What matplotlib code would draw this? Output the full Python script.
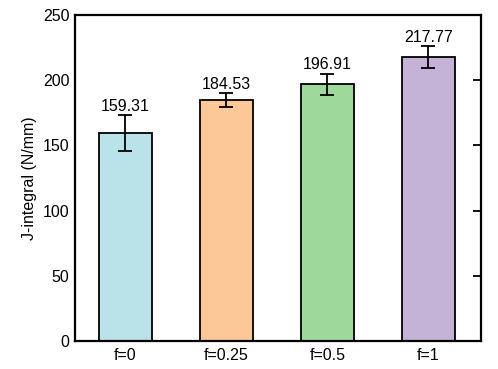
import matplotlib
matplotlib.use("Agg")
import matplotlib.pyplot as plt

categories = ["f=0", "f=0.25", "f=0.5", "f=1"]
values = [159.31, 184.53, 196.91, 217.77]
errors = [13.8, 5.4, 8.2, 8.6]
colors = ["#B9E3E8", "#FDC897", "#9ED89B", "#C4B3D7"]
yticks = [0, 50, 100, 150, 200, 250]

plt.rcParams['font.family'] = ['Liberation Sans', 'DejaVu Sans']
plt.rcParams['font.size'] = 11.5

fig = plt.figure(figsize=(4.98, 3.69), dpi=100)
ax = fig.add_axes([75/498, 1-341/369, 406/498, 326/369])

x = list(range(len(categories)))
ax.bar(x, values, width=0.52, color=colors, edgecolor='black', linewidth=1.3,
       yerr=errors, capsize=5, error_kw=dict(elinewidth=1.3, capthick=1.3, ecolor='black'))
for xi, v, e in zip(x, values, errors):
    ax.text(xi, v + e + 0.8, f"{v:.2f}", ha='center', va='bottom', fontsize=11.5)

ax.set_xlim(-0.5, 3.52)
ax.set_ylim(0, 250)
ax.set_xticks(x)
ax.set_xticklabels(categories)
ax.set_yticks(yticks)
ax.set_ylabel("J-integral (N/mm)", labelpad=4)
ax.tick_params(axis='x', length=0, pad=5)
ax.tick_params(axis='y', left=False, right=True, direction='in', length=6, width=1.3, pad=4)
for s in ax.spines.values():
    s.set_linewidth(1.6)

fig.savefig("out.png", dpi=100)
